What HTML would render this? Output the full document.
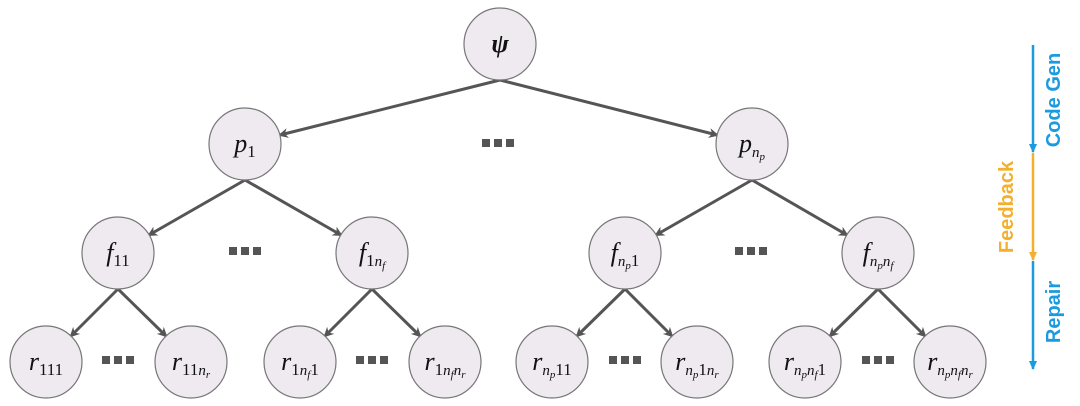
<!DOCTYPE html>
<html><head><meta charset="utf-8"><style>
html,body{margin:0;padding:0;background:#fff;}
#w{position:relative;width:1080px;height:406px;overflow:hidden;}
svg{position:absolute;left:0;top:0;}
.l{position:absolute;width:80px;height:30px;line-height:30px;text-align:center;font-family:"Liberation Serif",serif;font-style:italic;font-size:26px;color:#111;white-space:nowrap;}
.l sub{font-style:normal;font-size:17px;vertical-align:-5px;}
.l sub i{font-style:italic;font-size:15px;}
.l sub i sub{font-style:italic;font-size:11px;vertical-align:-3px;}
.t{position:absolute;font-family:"Liberation Sans",sans-serif;font-weight:bold;font-size:20px;transform:rotate(-90deg);transform-origin:center;white-space:nowrap;text-align:center;width:120px;height:24px;line-height:24px;}
</style></head><body><div id="w">
<svg width="1080" height="406" viewBox="0 0 1080 406">
<defs>
<marker id="a" markerWidth="10" markerHeight="10" refX="8" refY="5" orient="auto" markerUnits="userSpaceOnUse"><path d="M0,0 L10,5 L0,10 L3,5 z" fill="#555"/></marker>
<marker id="b" markerWidth="10" markerHeight="10" refX="8" refY="5" orient="auto" markerUnits="userSpaceOnUse"><path d="M0,1 L9,5 L0,9 z" fill="#1a9be0"/></marker>
<marker id="o" markerWidth="10" markerHeight="10" refX="8" refY="5" orient="auto" markerUnits="userSpaceOnUse"><path d="M0,1 L9,5 L0,9 z" fill="#f2b02e"/></marker>
</defs>
<g stroke="#555" stroke-width="3" marker-end="url(#a)" fill="none">
<line x1="500" y1="80" x2="280" y2="135"/>
<line x1="500" y1="80" x2="717" y2="135"/>
<line x1="245" y1="180" x2="149" y2="235"/>
<line x1="245" y1="180" x2="341" y2="235"/>
<line x1="752" y1="180" x2="656" y2="235"/>
<line x1="752" y1="180" x2="847" y2="235"/>
<line x1="118" y1="289" x2="71" y2="336"/>
<line x1="118" y1="289" x2="166" y2="336"/>
<line x1="372" y1="289" x2="325" y2="336"/>
<line x1="372" y1="289" x2="420" y2="336"/>
<line x1="625" y1="289" x2="577" y2="336"/>
<line x1="625" y1="289" x2="672" y2="336"/>
<line x1="878" y1="289" x2="830" y2="336"/>
<line x1="878" y1="289" x2="925" y2="336"/>
</g>
<g fill="#eeeaf0" stroke="#777" stroke-width="1.2">
<circle cx="500" cy="44" r="36"/>
<circle cx="245" cy="144" r="36"/><circle cx="752" cy="144" r="36"/>
<circle cx="118" cy="253" r="36"/><circle cx="372" cy="253" r="36"/>
<circle cx="625" cy="253" r="36"/><circle cx="878" cy="253" r="36"/>
<circle cx="46" cy="362" r="36"/><circle cx="191" cy="362" r="36"/>
<circle cx="300" cy="362" r="36"/><circle cx="445" cy="362" r="36"/>
<circle cx="552" cy="362" r="36"/><circle cx="697" cy="362" r="36"/>
<circle cx="805" cy="362" r="36"/><circle cx="950" cy="362" r="36"/>
</g>
<g fill="#555">
<rect x="482" y="139" width="8" height="8"/><rect x="494" y="139" width="8" height="8"/><rect x="506" y="139" width="8" height="8"/>
<rect x="229" y="247" width="8" height="8"/><rect x="241" y="247" width="8" height="8"/><rect x="253" y="247" width="8" height="8"/>
<rect x="735" y="247" width="8" height="8"/><rect x="747" y="247" width="8" height="8"/><rect x="759" y="247" width="8" height="8"/>
<rect x="102" y="356" width="8" height="8"/><rect x="114" y="356" width="8" height="8"/><rect x="126" y="356" width="8" height="8"/>
<rect x="356" y="356" width="8" height="8"/><rect x="368" y="356" width="8" height="8"/><rect x="380" y="356" width="8" height="8"/>
<rect x="609" y="356" width="8" height="8"/><rect x="621" y="356" width="8" height="8"/><rect x="633" y="356" width="8" height="8"/>
<rect x="862" y="356" width="8" height="8"/><rect x="874" y="356" width="8" height="8"/><rect x="886" y="356" width="8" height="8"/>
</g>
<line x1="1033" y1="45" x2="1033" y2="152" stroke="#1a9be0" stroke-width="2.5" marker-end="url(#b)"/>
<line x1="1033" y1="153" x2="1033" y2="260" stroke="#f2b02e" stroke-width="2.5" marker-end="url(#o)"/>
<line x1="1033" y1="261" x2="1033" y2="369" stroke="#1a9be0" stroke-width="2.5" marker-end="url(#b)"/>
</svg>
<div class="l" style="left:460px;top:29px;font-weight:bold;">ψ</div>
<div class="l" style="left:205px;top:129px;">p<sub>1</sub></div>
<div class="l" style="left:712px;top:129px;">p<sub><i>n<sub>p</sub></i></sub></div>
<div class="l" style="left:78px;top:238px;">f<sub>11</sub></div>
<div class="l" style="left:332px;top:238px;">f<sub>1<i>n<sub>f</sub></i></sub></div>
<div class="l" style="left:585px;top:238px;">f<sub><i>n<sub>p</sub></i>1</sub></div>
<div class="l" style="left:838px;top:238px;">f<sub><i>n<sub>p</sub>n<sub>f</sub></i></sub></div>
<div class="l" style="left:6px;top:347px;">r<sub>111</sub></div>
<div class="l" style="left:151px;top:347px;">r<sub>11<i>n<sub>r</sub></i></sub></div>
<div class="l" style="left:260px;top:347px;">r<sub>1<i>n<sub>f</sub></i>1</sub></div>
<div class="l" style="left:405px;top:347px;">r<sub>1<i>n<sub>f</sub>n<sub>r</sub></i></sub></div>
<div class="l" style="left:512px;top:347px;">r<sub><i>n<sub>p</sub></i>11</sub></div>
<div class="l" style="left:657px;top:347px;">r<sub><i>n<sub>p</sub></i>1<i>n<sub>r</sub></i></sub></div>
<div class="l" style="left:765px;top:347px;">r<sub><i>n<sub>p</sub>n<sub>f</sub></i>1</sub></div>
<div class="l" style="left:910px;top:347px;">r<sub><i>n<sub>p</sub>n<sub>f</sub>n<sub>r</sub></i></sub></div>
<div class="t" style="left:994px;top:88px;color:#1a9be0;">Code Gen</div>
<div class="t" style="left:947px;top:195px;color:#f2b02e;">Feedback</div>
<div class="t" style="left:994px;top:300px;color:#1a9be0;">Repair</div>
</div></body></html>
